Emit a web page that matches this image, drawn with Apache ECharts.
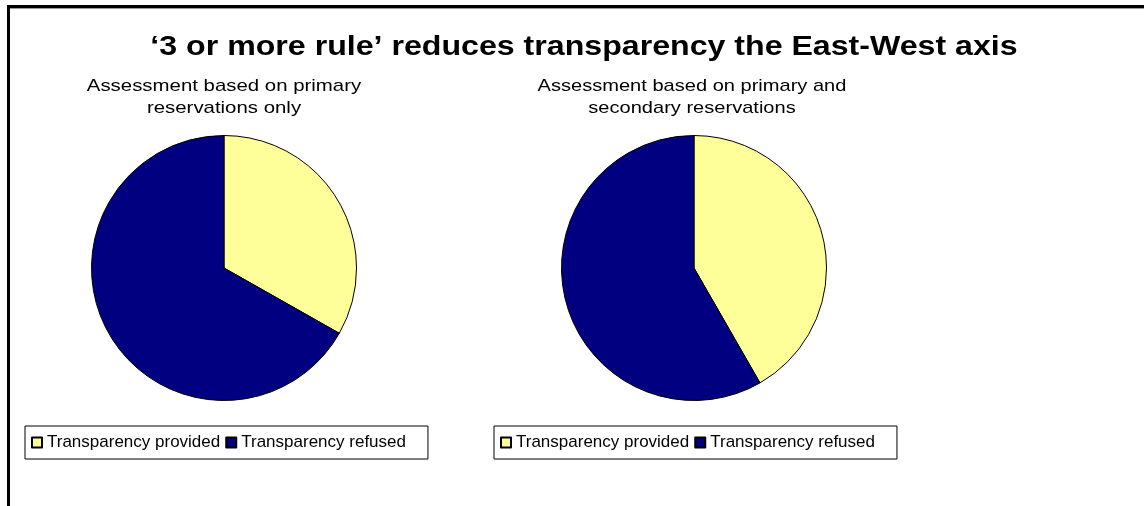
<!DOCTYPE html>
<html>
<head>
<meta charset="utf-8">
<script src="https://cdn.jsdelivr.net/npm/echarts@6/dist/echarts.min.js"></script>
<style>
  html, body { margin: 0; padding: 0; background: #fff; }
  #chart { width: 1144px; height: 506px; }
</style>
</head>
<body>
<div id="chart"></div>
<script>
// categories (legend items)
var categories = ['Transparency provided', 'Transparency refused'];
// share of cases (%)
var primaryOnly = [33.2, 66.8];
var primaryAndSecondary = [41.7, 58.3];
var colors = ['#FFFF99', '#000080'];

var chartTitle = '\u20183 or more rule\u2019 reduces transparency the East-West axis';
var leftCaption = 'Assessment based on primary\nreservations only';
var rightCaption = 'Assessment based on primary and\nsecondary reservations';

var font = '"Liberation Sans", Arial, sans-serif';

function toData(values) {
  return values.map(function (v, i) {
    return { name: categories[i], value: v, itemStyle: { color: colors[i] } };
  });
}

function pieSeries(name, center, values) {
  return {
    name: name,
    type: 'pie',
    center: center,
    radius: 132.5,
    startAngle: 90,
    clockwise: true,
    label: { show: false },
    labelLine: { show: false },
    emphasis: { disabled: true },
    itemStyle: { borderColor: '#000', borderWidth: 1 },
    data: toData(values)
  };
}

function legendAt(left, index) {
  return {
    seriesIndex: index,
    data: categories,
    left: left,
    top: 426,
    orient: 'horizontal',
    icon: 'rect',
    itemWidth: 10,
    itemHeight: 10,
    itemGap: 5,
    padding: [8, 22, 8, 6],
    borderColor: '#000',
    borderWidth: 1,
    selectedMode: false,
    textStyle: { fontFamily: font, fontSize: 17, color: '#000' }
  };
}

var chart = echarts.init(document.getElementById('chart'));
chart.setOption({
  animation: false,
  backgroundColor: '#fff',
  legend: [legendAt(25, 0), legendAt(494, 1)],
  graphic: [
    { type: 'rect', shape: { x: 7, y: 5, width: 1137, height: 3 }, style: { fill: '#000' } },
    { type: 'rect', shape: { x: 7, y: 8, width: 1137, height: 1 }, style: { fill: '#999' } },
    { type: 'rect', shape: { x: 7, y: 5, width: 3, height: 501 }, style: { fill: '#000' } },
    {
      type: 'text', x: 584, y: 48, scaleX: 1.19,
      style: {
        text: chartTitle, fill: '#000', align: 'center', verticalAlign: 'middle',
        font: 'bold 27px ' + font
      }
    },
    {
      type: 'text', x: 224, y: 75, scaleX: 1.2,
      style: {
        text: leftCaption, fill: '#000', align: 'center', verticalAlign: 'top',
        font: '17px ' + font, lineHeight: 22
      }
    },
    {
      type: 'text', x: 692, y: 75, scaleX: 1.18,
      style: {
        text: rightCaption, fill: '#000', align: 'center', verticalAlign: 'top',
        font: '17px ' + font, lineHeight: 22
      }
    }
  ],
  series: [
    pieSeries('Primary reservations only', [224, 268], primaryOnly),
    pieSeries('Primary and secondary reservations', [694, 268], primaryAndSecondary)
  ]
});
</script>
</body>
</html>
